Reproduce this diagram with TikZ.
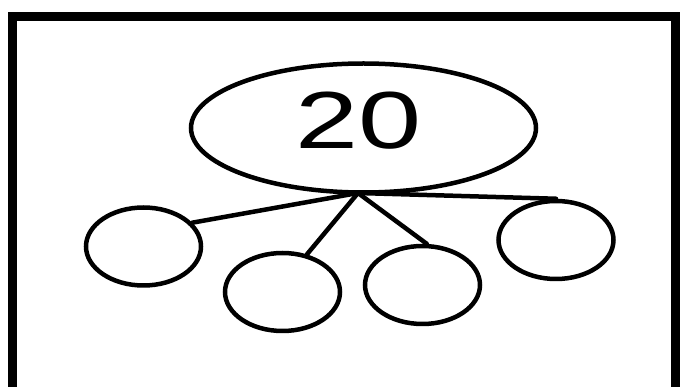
\documentclass[tikz,border=0pt]{standalone}
\usepackage{fontspec}
\usepackage{graphicx}
\setmainfont{Liberation Sans}
\usetikzlibrary{shapes.geometric}
\begin{document}
\begin{tikzpicture}[x=1pt,y=-1pt,
  frameline/.style={line width=8.5pt, line join=miter},
  bigell/.style={ellipse, draw, line width=4.5pt, minimum width=345pt, minimum height=129pt, inner sep=0pt},
  smallell/.style={ellipse, draw, line width=4.5pt, minimum width=115pt, minimum height=78pt, inner sep=0pt},
  link/.style={line width=4.5pt, line cap=round},
  numtext/.style={inner sep=0pt, font=\fontsize{81}{81}\selectfont}]
\useasboundingbox (0,0) rectangle (689,387);
\clip (0,0) rectangle (689,387);
\fill[white] (0,0) rectangle (689,387);
\draw[frameline] (12.5,420) -- (12.5,16.5) -- (675.5,16.5) -- (675.5,420);
\node[bigell] (big) at (363.5,128) {};
\node[numtext] (num) at (359,121) {\scalebox{1.4}[1]{20}};
\node[smallell] (c1) at (143.5,246.5) {};
\node[smallell] (c2) at (282.5,292) {};
\node[smallell] (c3) at (422.5,285) {};
\node[smallell] (c4) at (556,240) {};
\coordinate (hub) at (358,193);
\draw[link] (hub) -- (c1.26);
\draw[link] (hub) -- (c2.57);
\draw[link] (hub) -- (c3.84);
\draw[link] (hub) -- (c4.north);
\end{tikzpicture}
\end{document}
